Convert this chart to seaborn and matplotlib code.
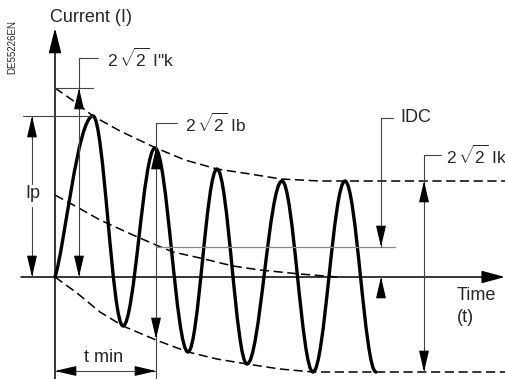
import numpy as np
import pandas as pd
import matplotlib
matplotlib.use("Agg")
import matplotlib.pyplot as plt
from matplotlib.path import Path
from matplotlib.patches import PathPatch
import seaborn as sns

# ---- data (time / current in drawing units, zero current on the time axis) ----
wave_t = [0, 38, 68, 100, 133, 162, 192, 227, 258, 290, 321]
wave_i = [0, 161, -49, 129, -75, 108, -87, 96, -95, 96, -95]

upper_t = [0, 20, 38, 65, 101, 130, 162, 195, 226, 265, 290, 345, 451]
upper_i = [189, 175, 161, 146, 129, 117, 108, 103, 98, 96, 96, 96, 96]

lower_t = [0, 22, 45, 68, 101, 133, 162, 192, 225, 258, 321, 451]
lower_i = [0, -16, -35, -49, -63, -75, -82, -87, -92, -95, -95, -95]

dc_t = [0, 22, 45, 78, 101, 118, 145, 178, 205, 245, 282]
dc_i = [82, 70, 57, 42, 32, 25, 19, 11, 7, 3, 0]

labels = {
    "ylabel": "Current (I)",
    "xlabel1": "Time",
    "xlabel2": "(t)",
    "ipk": r'2 $\!\sqrt{2}$ I"k',
    "ib": r'2 $\!\sqrt{2}$ Ib',
    "ik": r'2 $\!\sqrt{2}$ Ik',
    "idc": "IDC",
    "ip": "Ip",
    "tmin": "t min",
    "code": "DE55226EN",
}

sns.set_style("white")
plt.rcParams["font.family"] = ["Liberation Sans", "DejaVu Sans"]
plt.rcParams["mathtext.fontset"] = "custom"
plt.rcParams["mathtext.rm"] = "Liberation Sans"
plt.rcParams["mathtext.it"] = "Liberation Sans"
plt.rcParams["mathtext.bf"] = "Liberation Sans"

fig = plt.figure(figsize=(5.06, 3.79), dpi=100)
ax = fig.add_axes([0, 0, 1, 1])
ax.set_xlim(-55, 451)
ax.set_ylim(-102, 277)
ax.axis("off")

K = "black"
G = "#444444"

def arrow(tip, tail, color=K, lw=0.8, hl=1.2, hw=0.28, ms=11):
    ax.annotate("", xy=tip, xytext=tail,
                arrowprops=dict(arrowstyle=f"-|>,head_length={hl},head_width={hw}",
                                color=color, lw=lw, mutation_scale=ms,
                                shrinkA=0, shrinkB=0))

# axes
ax.plot([0, 0], [-102, 240], color=K, lw=1.1)
arrow((0, 249), (0, 230), lw=1.1, hl=1.4, hw=0.35)
ax.plot([-34, 440], [0, 0], color=K, lw=1.1)
arrow((450, 0), (430, 0), lw=1.1, hl=1.3, hw=0.35)

# envelopes
dash = (0, (6, 3))
for tt, ii in ((upper_t, upper_i), (lower_t, lower_i), (dc_t, dc_i)):
    env = pd.DataFrame({"t": tt, "i": ii})
    sns.lineplot(data=env, x="t", y="i", ax=ax, color=K, lw=1.1, linestyle=dash, sort=False)

# waveform: half-cosine-like Bezier between read extrema
verts = [(wave_t[0], wave_i[0])]
codes = [Path.MOVETO]
k = 0.3642
pairs = list(zip(zip(wave_t[:-1], wave_i[:-1]), zip(wave_t[1:], wave_i[1:])))
for n, ((t0, i0), (t1, i1)) in enumerate(pairs):
    dt = t1 - t0
    if n == 0:
        c1 = (t0 + 0.25 * dt, i0 + 0.18 * (i1 - i0))
        c2 = (t1 - 0.4 * dt, i1)
    else:
        c1 = (t0 + k * dt, i0)
        c2 = (t1 - k * dt, i1)
    verts += [c1, c2, (t1, i1)]
    codes += [Path.CURVE4] * 3
ax.add_patch(PathPatch(Path(verts, codes), facecolor="none", edgecolor=K, lw=2.4,
                       capstyle="round", joinstyle="round"))

FS = 12.5

# I"k annotation
ax.plot([0, 38], [189, 189], color=G, lw=0.8)
ax.plot([24, 24], [219, 0], color=G, lw=0.8)
ax.plot([24, 43], [219, 219], color=G, lw=0.8)
arrow((24, 189), (24, 170))
arrow((24, 0), (24, 20))
ax.text(52, 219, labels["ipk"], fontsize=FS, ha="left", va="center")

# Ip annotation
ax.plot([-32, 38], [161, 161], color=G, lw=0.8)
ax.plot([-23, -23], [161, 93], color=G, lw=0.8)
ax.plot([-23, -23], [70, 0], color=G, lw=0.8)
arrow((-23, 161), (-23, 140))
arrow((-23, 0), (-23, 20))
ax.text(-22, 84, labels["ip"], fontsize=13, ha="center", va="center")

# Ib annotation
ax.plot([101, 101], [154, -102], color=G, lw=0.8)
ax.plot([101, 122], [154, 154], color=G, lw=0.8)
arrow((101, 129), (101, 110))
arrow((101, -62), (101, -42))
ax.text(130, 154, labels["ib"], fontsize=FS, ha="left", va="center")

# DC level line and IDC annotation
ax.plot([101, 340], [30, 30], color="#888888", lw=0.9)
ax.plot([326, 326], [159, 30], color=G, lw=0.8)
ax.plot([326, 338], [159, 159], color=G, lw=0.8)
arrow((326, 30), (326, 50))
ax.plot([326, 326], [-20, 0], color=G, lw=0.8)
arrow((326, 0), (326, -20))
ax.text(345, 159, labels["idc"], fontsize=13, ha="left", va="center")

# Ik annotation
ax.plot([369, 369], [122, -95], color=G, lw=0.8)
ax.plot([369, 386], [122, 122], color=G, lw=0.8)
arrow((369, 96), (369, 76))
arrow((369, -95), (369, -75))
ax.text(391, 122, labels["ik"], fontsize=FS, ha="left", va="center")

# t min
ax.plot([0, 101], [-94, -94], color=G, lw=0.8)
arrow((0, -94), (20, -94))
arrow((101, -94), (81, -94))
ax.text(49, -80, labels["tmin"], fontsize=13, ha="center", va="center")

# axis labels
ax.text(-5, 260, labels["ylabel"], fontsize=13, ha="left", va="center")
ax.text(402, -19, labels["xlabel1"], fontsize=13, ha="left", va="center")
ax.text(402, -40, labels["xlabel2"], fontsize=13, ha="left", va="center")
ax.text(-43, 230, labels["code"], fontsize=7, ha="center", va="center", rotation=90)

fig.savefig("out.png", dpi=100)
